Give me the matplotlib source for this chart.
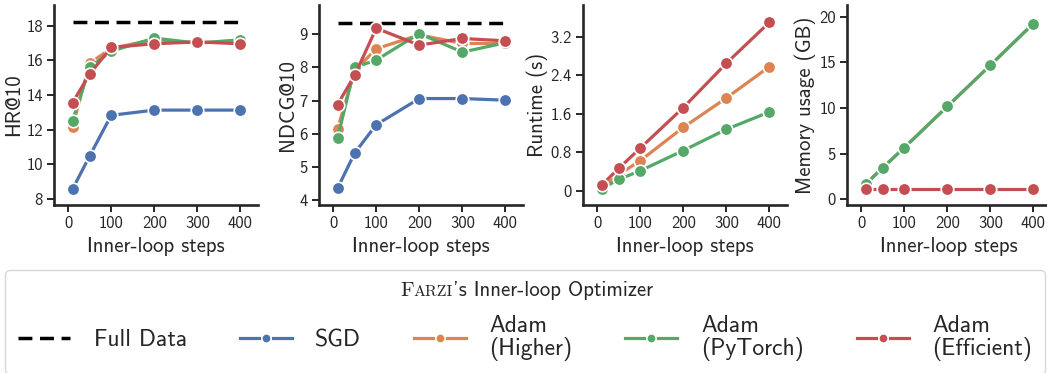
import numpy as np
import matplotlib
matplotlib.use('Agg')
import matplotlib.pyplot as plt
from matplotlib.offsetbox import TextArea, HPacker, AnchoredOffsetbox

plt.rcParams['font.family'] = ['cmss10', 'DejaVu Sans']
plt.rcParams['axes.unicode_minus'] = False
plt.rcParams['mathtext.fontset'] = 'cm'

# data
steps = [10, 50, 100, 200, 300, 400]

hr_full = 18.21
hr_sgd = [8.56, 10.49, 12.83, 13.13, 13.13, 13.13]
hr_higher = [12.17, 15.84, 16.70, 17.20, 17.00, 17.15]
hr_pytorch = [12.52, 15.60, 16.53, 17.29, 17.00, 17.19]
hr_eff = [13.56, 15.22, 16.75, 16.96, 17.07, 16.96]

ndcg_full = 9.33
ndcg_sgd = [4.35, 5.42, 6.27, 7.06, 7.06, 7.01]
ndcg_higher = [6.14, 7.90, 8.56, 8.98, 8.72, 8.72]
ndcg_pytorch = [5.86, 8.00, 8.22, 9.02, 8.46, 8.74]
ndcg_eff = [6.88, 7.76, 9.18, 8.67, 8.87, 8.80]

rt_higher = [0.07, 0.34, 0.63, 1.32, 1.93, 2.58]
rt_pytorch = [0.05, 0.24, 0.42, 0.84, 1.28, 1.64]
rt_eff = [0.12, 0.47, 0.89, 1.73, 2.65, 3.50]

mem_higher = [1.64, 3.47, 5.66, 10.18, 14.70, 19.27]
mem_pytorch = [1.64, 3.47, 5.66, 10.18, 14.70, 19.27]
mem_eff = [1.10, 1.10, 1.10, 1.10, 1.10, 1.10]

C_SGD, C_HIGH, C_PT, C_EFF = '#4C72B0', '#DD8452', '#55A868', '#C44E52'
TXT = '#262626'

fig = plt.figure(figsize=(10.47, 3.73), dpi=100)
W, H = 1047., 373.
lefts = [54, 319, 583, 847]
axes = [fig.add_axes([l / W, 1 - 205 / H, 204 / W, 200 / H]) for l in lefts]


def line(ax, y, c, label=None):
    return ax.plot(steps, y, '-o', color=c, lw=2.3, ms=9, mec='white', mew=1.2,
                   label=label, zorder=3)[0]


def full(ax, v):
    return ax.plot([steps[0], steps[-1]], [v, v], '--', color='black', lw=2.5,
                   dashes=(4, 2.2), zorder=2)[0]


ax = axes[0]
h_full = full(ax, hr_full)
h_sgd = line(ax, hr_sgd, C_SGD)
h_high = line(ax, hr_higher, C_HIGH)
h_pt = line(ax, hr_pytorch, C_PT)
h_eff = line(ax, hr_eff, C_EFF)
ax.set_ylim(7.65, 19.2)
ax.set_yticks([8, 10, 12, 14, 16, 18])
ax.set_ylabel('HR@10')

ax = axes[1]
full(ax, ndcg_full)
line(ax, ndcg_sgd, C_SGD)
line(ax, ndcg_higher, C_HIGH)
line(ax, ndcg_pytorch, C_PT)
line(ax, ndcg_eff, C_EFF)
ax.set_ylim(3.85, 9.88)
ax.set_yticks([4, 5, 6, 7, 8, 9])
ax.set_ylabel('NDCG@10')

ax = axes[2]
line(ax, rt_higher, C_HIGH)
line(ax, rt_pytorch, C_PT)
line(ax, rt_eff, C_EFF)
ax.set_ylim(-0.29, 3.86)
ax.set_yticks([0, 0.8, 1.6, 2.4, 3.2])
ax.set_yticklabels(['0', '0.8', '1.6', '2.4', '3.2'])
ax.set_ylabel('Runtime (s)')

ax = axes[3]
line(ax, mem_higher, C_HIGH)
line(ax, mem_pytorch, C_PT)
line(ax, mem_eff, C_EFF)
ax.set_ylim(-0.62, 21.3)
ax.set_yticks([0, 5, 10, 15, 20])
ax.set_ylabel('Memory usage (GB)')

for ax in axes:
    ax.set_xlim(-33, 441)
    ax.set_xticks([0, 100, 200, 300, 400])
    ax.set_xlabel('Inner-loop steps', fontsize=15, color=TXT)
    ax.yaxis.label.set_size(15)
    ax.yaxis.label.set_color(TXT)
    ax.yaxis.labelpad = 2
    for s in ['top', 'right']:
        ax.spines[s].set_visible(False)
    for s in ['left', 'bottom']:
        ax.spines[s].set_linewidth(1.9)
        ax.spines[s].set_color(TXT)
    ax.tick_params(labelsize=12, colors=TXT, width=1.4, length=5, pad=3)

# title space is reserved with a blank legend title, real title drawn on top
leg = fig.legend([h_full, h_sgd, h_high, h_pt, h_eff],
                 ['Full Data', 'SGD', 'Adam\n(Higher)', 'Adam\n(PyTorch)', 'Adam\n(Efficient)'],
                 loc='upper left', bbox_to_anchor=(5 / W, 0, 1040 / W, 1 - 270 / H),
                 mode='expand', ncol=5, fontsize=17, frameon=True, fancybox=True,
                 title=' ', title_fontsize=22, borderaxespad=0,
                 handlelength=2.2, handletextpad=1.0, borderpad=0.55, markerscale=0.75,
                 labelspacing=0.2)
leg.get_frame().set_edgecolor('#cccccc')
leg.get_frame().set_linewidth(1.0)
for t in leg.get_texts():
    t.set_color(TXT)
    t.set_linespacing(1.0)

# legend title with small caps
ta = [TextArea('F', textprops=dict(family='cmr10', size=15, color=TXT)),
      TextArea('ARZI', textprops=dict(family='cmr10', size=11.5, color=TXT)),
      TextArea("'s Inner-loop Optimizer", textprops=dict(size=15, color=TXT))]
box = HPacker(children=ta, align='baseline', pad=0, sep=0)
anch = AnchoredOffsetbox(loc='center', child=box, frameon=False,
                         bbox_to_anchor=(0.503, 1 - 290 / H), bbox_transform=fig.transFigure,
                         borderpad=0, pad=0)
anch.set_zorder(10)
fig.add_artist(anch)

fig.savefig('out.png', dpi=100)
